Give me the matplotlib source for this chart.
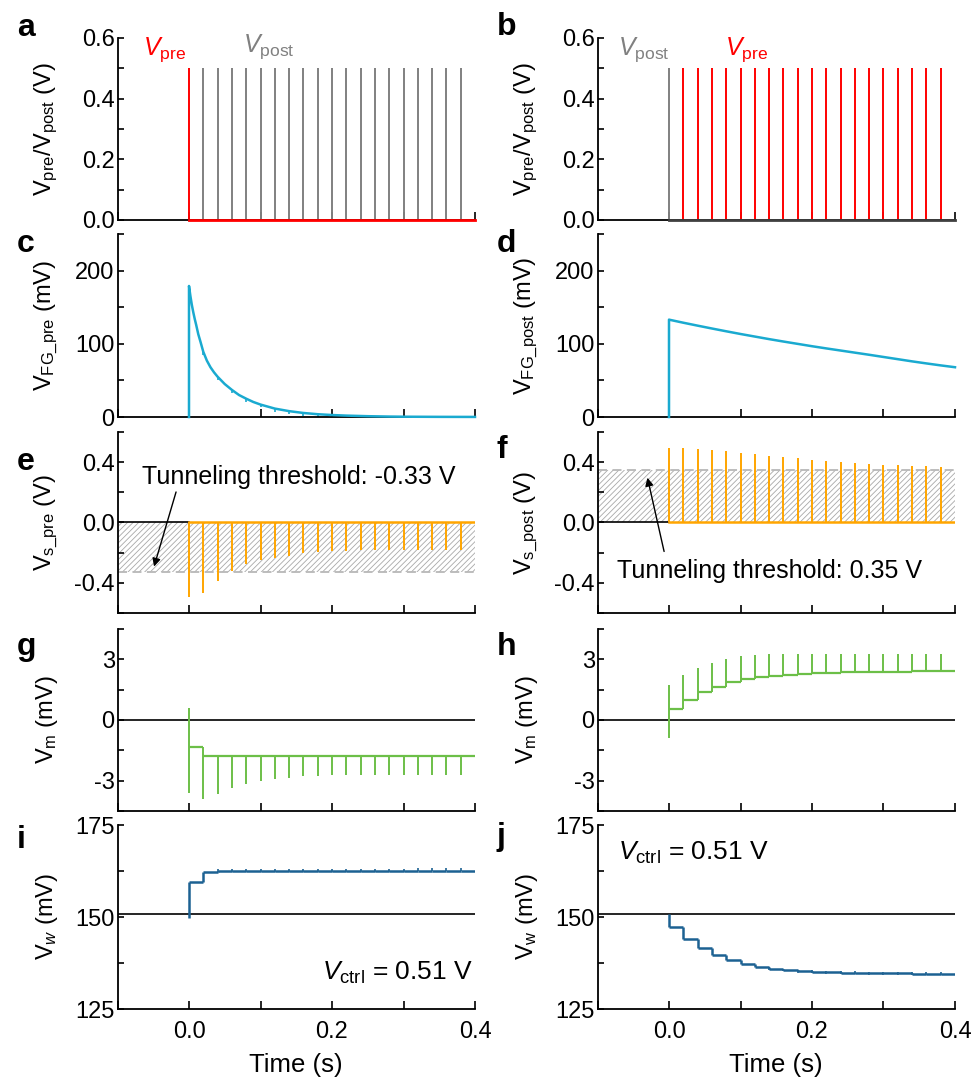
import numpy as np
import matplotlib
matplotlib.use('Agg')
import matplotlib.pyplot as plt
from matplotlib.ticker import MultipleLocator, NullFormatter

plt.rcParams['font.family'] = ['Liberation Sans', 'DejaVu Sans']
plt.rcParams['mathtext.fontset'] = 'custom'
plt.rcParams['mathtext.rm'] = 'Liberation Sans'
plt.rcParams['mathtext.it'] = 'Liberation Sans:italic'
plt.rcParams['mathtext.bf'] = 'Liberation Sans:bold'
plt.rcParams['axes.unicode_minus'] = False
plt.rcParams['hatch.linewidth'] = 0.6

# %% Data

# pulse times (s)
pulse_t = [0.00, 0.02, 0.04, 0.06, 0.08, 0.10, 0.12, 0.14, 0.16, 0.18,
           0.20, 0.22, 0.24, 0.26, 0.28, 0.30, 0.32, 0.34, 0.36, 0.38]
pulse_amp = 0.5

# floating gate potential, pre-first pairing (mV)
fg_pre_t = [0.000, 0.002, 0.004, 0.006, 0.008, 0.010, 0.013, 0.016, 0.020, 0.025,
            0.030, 0.035, 0.040, 0.050, 0.060, 0.070, 0.080, 0.090, 0.100, 0.120,
            0.140, 0.160, 0.180, 0.200, 0.220, 0.250, 0.280, 0.300, 0.350, 0.400]
fg_pre_v = [179, 165, 153, 143, 134, 126, 113, 103, 89, 77,
            68, 61, 55, 45, 37, 30, 25, 20.5, 17, 11.5,
            8, 5.5, 3.8, 2.7, 1.9, 1.1, 0.6, 0.4, 0.2, 0.1]

# floating gate potential, post-first pairing (mV)
fg_post_t = [0.00, 0.02, 0.04, 0.06, 0.08, 0.10, 0.12, 0.14, 0.16, 0.18, 0.20,
             0.22, 0.24, 0.26, 0.28, 0.30, 0.32, 0.34, 0.36, 0.38, 0.40]
fg_post_v = [133, 128.8, 124.8, 120.9, 117.1, 113.4, 109.9, 106.4, 103.1, 99.9, 96.7,
             93.7, 90.8, 87.9, 85.0, 82.0, 79.0, 76.0, 73.2, 70.5, 68.0]

# source voltage spikes (V)
vs_pre = [-0.496, -0.466, -0.39, -0.323, -0.278, -0.251, -0.236, -0.219, -0.205, -0.197,
          -0.190, -0.186, -0.184, -0.183, -0.182, -0.182, -0.181, -0.181, -0.180, -0.180]
vs_post = [0.497, 0.497, 0.490, 0.482, 0.474, 0.463, 0.454, 0.443, 0.435, 0.426,
           0.417, 0.409, 0.402, 0.396, 0.389, 0.383, 0.378, 0.374, 0.372, 0.368]
thr_pre = -0.33
thr_post = 0.35

# membrane potential (mV): level after each pulse and spike extreme
vm_pre_level = [-1.34, -1.77, -1.78, -1.78, -1.78, -1.78, -1.78, -1.78, -1.78, -1.78,
                -1.78, -1.78, -1.78, -1.78, -1.78, -1.78, -1.78, -1.78, -1.78, -1.78]
vm_pre_spike = [-3.60, -3.93, -3.64, -3.36, -3.15, -3.03, -2.92, -2.85, -2.79, -2.75,
                -2.73, -2.72, -2.72, -2.72, -2.72, -2.72, -2.72, -2.72, -2.72, -2.72]
vm_pre_first_top = 0.57
vm_post_level = [0.54, 0.98, 1.36, 1.64, 1.89, 2.02, 2.13, 2.20, 2.25, 2.28,
                 2.31, 2.33, 2.35, 2.36, 2.37, 2.38, 2.39, 2.40, 2.40, 2.41]
vm_post_spike = [1.75, 2.21, 2.57, 2.84, 3.00, 3.15, 3.20, 3.25, 3.27, 3.28,
                 3.28, 3.28, 3.28, 3.28, 3.28, 3.28, 3.28, 3.27, 3.26, 3.25]
vm_post_first_low = -0.9

# weight voltage (mV)
vw_base = 150.9
vw_pre_start = 149.6
vw_pre_level = [159.4, 162.3, 162.4, 162.4, 162.45, 162.45, 162.5, 162.5, 162.5, 162.5,
                162.5, 162.5, 162.55, 162.55, 162.55, 162.55, 162.6, 162.6, 162.6, 162.6]
vw_post_level = [147.3, 144.1, 141.6, 139.7, 138.2, 137.2, 136.5, 135.9, 135.6, 135.3,
                 135.1, 134.95, 134.85, 134.8, 134.75, 134.7, 134.65, 134.6, 134.6, 134.6]

t_end = 0.4

red = '#ff0000'
grey = '#808080'
cyan = '#1aaad0'
orange = '#ffa500'
green = '#6cbf48'
navy = '#1c6192'

# %% Layout

W, H = 977, 1080
fig = plt.figure(figsize=(W / 100, H / 100), dpi=100)

col_x = [117.5, 597.5]
col_w = 357.5
rows = [(38, 220), (234, 417), (432, 613), (629, 811), (825, 1009)]

axs = np.empty((5, 2), dtype=object)
for r, (top, bot) in enumerate(rows):
    for c in range(2):
        axs[r, c] = fig.add_axes([col_x[c] / W, 1 - bot / H, col_w / W, (bot - top) / H])

ylims = [(0, 0.6), (0, 250), (-0.6, 0.6), (-4.5, 4.5), (125, 175)]
ymajor = [0.2, 100, 0.4, 3, 25]
yminor = [0.1, 50, 0.2, 1.5, 12.5]
ylabels = [[r'$\mathrm{V_{pre}/V_{post}}$ (V)', r'$\mathrm{V_{pre}/V_{post}}$ (V)'],
           [r'$\mathrm{V_{FG\_pre}}$ (mV)', r'$\mathrm{V_{FG\_post}}$ (mV)'],
           [r'$\mathrm{V_{s\_pre}}$ (V)', r'$\mathrm{V_{s\_post}}$ (V)'],
           [r'$\mathrm{V_m}$ (mV)', r'$\mathrm{V_m}$ (mV)'],
           [r'$\mathrm{V}_{w}$ (mV)', r'$\mathrm{V_w}$ (mV)']]

for r in range(5):
    for c in range(2):
        ax = axs[r, c]
        ax.set_xlim(-0.1, 0.4)
        ax.set_ylim(*ylims[r])
        for s in ['top', 'right']:
            ax.spines[s].set_visible(False)
        for s in ['left', 'bottom']:
            ax.spines[s].set_linewidth(1.3)
        ax.xaxis.set_major_locator(MultipleLocator(0.2))
        ax.xaxis.set_minor_locator(MultipleLocator(0.1))
        ax.yaxis.set_major_locator(MultipleLocator(ymajor[r]))
        ax.yaxis.set_minor_locator(MultipleLocator(yminor[r]))
        ax.tick_params(which='both', direction='in', labelsize=17, width=1.2)
        ax.tick_params(axis='x', which='both', length=6, pad=9)
        ax.tick_params(axis='y', which='both', length=4, pad=2)
        ax.yaxis.set_minor_formatter(NullFormatter())
        if r == 0:
            ax.set_yticks([0, 0.2, 0.4, 0.6])
            ax.set_yticklabels(['0.0', '0.2', '0.4', '0.6'])
        if r == 2:
            ax.set_yticks([-0.4, 0.0, 0.4])
            ax.set_yticklabels(['-0.4', '0.0', '0.4'])
        if r < 4:
            ax.tick_params(axis='x', labelbottom=False)
        else:
            ax.set_xticks([0.0, 0.2, 0.4])
            ax.set_xticklabels(['0.0', '0.2', '0.4'])
            ax.set_xlabel('Time (s)', fontsize=18.5, labelpad=7)
        ax.set_ylabel(ylabels[r][c], fontsize=17)
        ax.yaxis.set_label_coords(-0.16, 0.5)

lw = 1.4

# %% a, b: applied pulses
ax = axs[0, 0]
ax.vlines(pulse_t[1:], 0, pulse_amp, color=grey, lw=lw)
ax.vlines(pulse_t[0], 0, pulse_amp, color=red, lw=lw)
ax.plot([0, t_end], [0, 0], color=red, lw=2, clip_on=False, zorder=5)
ax.text(-0.064, 0.56, r'$V_{\mathrm{pre}}$', color=red, fontsize=18, va='center')
ax.text(0.076, 0.57, r'$V_{\mathrm{post}}$', color=grey, fontsize=18, va='center')

ax = axs[0, 1]
ax.vlines(pulse_t[1:], 0, pulse_amp, color=red, lw=lw)
ax.vlines(pulse_t[0], 0, pulse_amp, color=grey, lw=lw)
ax.plot([0, t_end], [0, 0], color='#404040', lw=2, clip_on=False, zorder=5)
ax.text(-0.071, 0.56, r'$V_{\mathrm{post}}$', color=grey, fontsize=18, va='center')
ax.text(0.078, 0.56, r'$V_{\mathrm{pre}}$', color=red, fontsize=18, va='center')

# %% c, d: floating gate
ax = axs[1, 0]
ax.plot([0] + fg_pre_t, [0] + fg_pre_v, color=cyan, lw=1.8, clip_on=False, zorder=5)
nick = np.interp(pulse_t[1:], fg_pre_t, fg_pre_v)
ax.vlines(pulse_t[1:], nick - 4, nick, color=cyan, lw=1.2)

ax = axs[1, 1]
ax.plot([0] + fg_post_t, [0] + fg_post_v, color=cyan, lw=1.8, clip_on=False, zorder=5)

# %% e, f: source voltage and tunneling threshold
ax = axs[2, 0]
ax.fill_between([-0.1, t_end], thr_pre, 0, facecolor='none', edgecolor='#a8a8a8',
                hatch='//////', lw=0)
ax.axhline(thr_pre, color='#b8b8b8', lw=1.3, ls=(0, (5, 3)))
ax.plot([-0.1, 0], [0, 0], color='k', lw=1.2)
ax.plot([0, t_end], [0, 0], color=orange, lw=1.8)
ax.vlines(pulse_t, vs_pre, 0, color=orange, lw=lw)
ax.text(-0.066, 0.30, 'Tunneling threshold: -0.33 V', fontsize=18, va='center')
ax.annotate('', xy=(-0.05, -0.31), xytext=(-0.017, 0.22),
            arrowprops=dict(arrowstyle='-|>', color='k', lw=1.0, mutation_scale=12))

ax = axs[2, 1]
ax.fill_between([-0.1, t_end], 0, thr_post, facecolor='none', edgecolor='#a8a8a8',
                hatch='//////', lw=0)
ax.axhline(thr_post, color='#b8b8b8', lw=1.3, ls=(0, (5, 3)))
ax.plot([-0.1, 0], [0, 0], color='k', lw=1.2)
ax.plot([0, t_end], [0, 0], color=orange, lw=1.8)
ax.vlines(pulse_t, 0, vs_post, color=orange, lw=lw)
ax.text(-0.073, -0.32, 'Tunneling threshold: 0.35 V', fontsize=18, va='center')
ax.annotate('', xy=(-0.031, 0.315), xytext=(-0.006, -0.21),
            arrowprops=dict(arrowstyle='-|>', color='k', lw=1.0, mutation_scale=12))


# %% g, h: membrane potential as steps with spikes
def draw_steps(ax, levels, start, color, width):
    ends = pulse_t[1:] + [t_end]
    ax.hlines(levels, pulse_t, ends, color=color, lw=width)
    prev = [start] + levels[:-1]
    return prev


ax = axs[3, 0]
ax.axhline(0, color='k', lw=1.2)
prev = draw_steps(ax, vm_pre_level, vm_pre_first_top, green, 1.6)
ax.vlines(pulse_t, vm_pre_spike, prev, color=green, lw=lw)

ax = axs[3, 1]
ax.axhline(0, color='k', lw=1.2)
prev = draw_steps(ax, vm_post_level, vm_post_first_low, green, 1.6)
ax.vlines(pulse_t, prev, vm_post_spike, color=green, lw=lw)

# %% i, j: weight voltage
ax = axs[4, 0]
ax.axhline(vw_base, color='k', lw=1.2)
prev = draw_steps(ax, vw_pre_level, vw_pre_start, navy, 1.8)
ax.vlines(pulse_t, prev, vw_pre_level, color=navy, lw=1.8)
ax.vlines(pulse_t[2:], np.array(vw_pre_level[2:]) - 0.2, np.array(vw_pre_level[2:]) + 0.6,
          color=navy, lw=1.2)
ax.text(0.397, 134.8, r'$V_{\mathrm{ctrl}}$ = 0.51 V', fontsize=19, ha='right', va='center')

ax = axs[4, 1]
ax.axhline(vw_base, color='k', lw=1.2)
prev = draw_steps(ax, vw_post_level, vw_base, navy, 1.8)
ax.vlines(pulse_t, prev, vw_post_level, color=navy, lw=1.8)
ax.vlines(pulse_t[7:], np.array(vw_post_level[7:]) - 0.4, np.array(vw_post_level[7:]) + 0.4,
          color=navy, lw=1.2)
ax.text(-0.071, 167.4, r'$V_{\mathrm{ctrl}}$ = 0.51 V', fontsize=19, ha='left', va='center')

# %% panel letters
letters = [('a', 17, 36), ('b', 497, 35), ('c', 17, 252), ('d', 497, 252),
           ('e', 17, 470), ('f', 497, 458), ('g', 17, 655), ('h', 497, 655),
           ('i', 17, 848), ('j', 497, 845)]
for s, x, y in letters:
    fig.text(x / W, 1 - y / H, s, fontsize=23, fontweight='bold', ha='left', va='baseline')

fig.savefig('out.png', dpi=100)
